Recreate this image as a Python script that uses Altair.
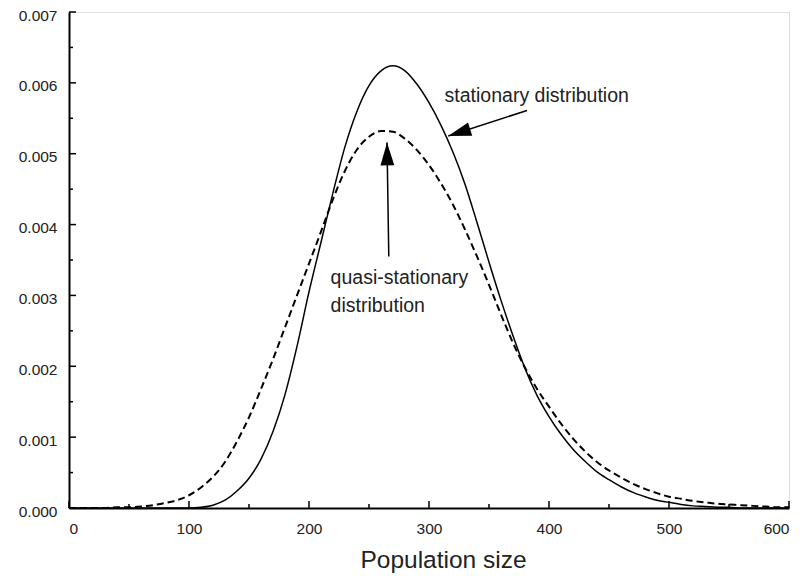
import altair as alt
import pandas as pd

# ---- data ----
x_vals = list(range(0, 601, 10))
stationary = [0, 0, 0, 0, 0, 0, 0, 0, 0, 0, 0,
              0.00001, 0.00004, 0.00011, 0.00024, 0.00042, 0.00069, 0.00108, 0.00160, 0.00228, 0.00305,
              0.00375, 0.00445, 0.00510, 0.00560, 0.00596, 0.00617, 0.00624, 0.00617, 0.00598, 0.00572,
              0.00540, 0.00502, 0.00457, 0.00403, 0.00347, 0.00293, 0.00243, 0.00197, 0.00159, 0.00129,
              0.00104, 0.00083, 0.00066, 0.00051, 0.00040, 0.00030, 0.00022, 0.00016, 0.00011, 0.00008,
              0.00005, 0.00003, 0.00002, 0.00001, 0.00001, 0, 0, 0, 0, 0]
quasi = [0, 0, 0, 0, 0.00001, 0.00001, 0.00002, 0.00004, 0.00007, 0.00011, 0.00018,
         0.00029, 0.00044, 0.00065, 0.00094, 0.00128, 0.00168, 0.00210, 0.00255, 0.00300, 0.00345,
         0.00390, 0.00436, 0.00476, 0.00506, 0.00524, 0.00532, 0.00531, 0.00521, 0.00505, 0.00484,
         0.00458, 0.00428, 0.00393, 0.00355, 0.00315, 0.00273, 0.00233, 0.00198, 0.00168, 0.00143,
         0.00119, 0.00098, 0.00080, 0.00065, 0.00053, 0.00043, 0.00034, 0.00027, 0.00021, 0.00016,
         0.00013, 0.00010, 0.00008, 0.00006, 0.00005, 0.00004, 0.00003, 0.00002, 0.00001, 0.00001]

x_major = [0, 100, 200, 300, 400, 500, 600]
x_minor = [50, 150, 250, 350, 450, 550]
y_major = [0.000, 0.001, 0.002, 0.003, 0.004, 0.005, 0.006, 0.007]
y_minor = [0.0005, 0.0015, 0.0025, 0.0035, 0.0045, 0.0055, 0.0065]

# annotations (data units)
label_text = ["stationary distribution", "quasi-stationary", "distribution"]
label_x = [313, 218, 218]
label_y = [0.00582, 0.00324, 0.00285]
arrow_x = [381.7, 266.5]
arrow_y = [0.00561, 0.00355]
arrow_x2 = [316.0, 265.0]
arrow_y2 = [0.00525, 0.00516]
arrow_angle = [252.5, 359]

W, H = 720, 496
FONT = "Liberation Sans"

df = pd.DataFrame({"x": x_vals * 2,
                   "y": stationary + quasi,
                   "series": ["stationary"] * len(x_vals) + ["quasi"] * len(x_vals)})

xscale = alt.Scale(domain=[0, 600], nice=False, zero=False)
yscale = alt.Scale(domain=[0, 0.007], nice=False)

xaxis = alt.Axis(values=x_major, format="d", grid=False, ticks=False, domainWidth=2,
                 domainColor="black", labelFont=FONT, labelFontSize=15.5, labelColor="#222",
                 labelPadding=13, title="Population size", titleFont=FONT, titleFontSize=24.5,
                 titleFontWeight="normal", titleColor="#222", titleX=374, titleY=59,
                 titleBaseline="alphabetic")
yaxis = alt.Axis(values=y_major, format=".3f", grid=False, ticks=False, domainWidth=2,
                 domainColor="black", labelFont=FONT, labelFontSize=15.5, labelColor="#222",
                 labelPadding=12, labelOffset=3, title=None)

solid = alt.Chart(df[df.series == "stationary"]).mark_line(
    color="black", strokeWidth=1.5, interpolate="monotone").encode(
    x=alt.X("x:Q", scale=xscale, axis=xaxis),
    y=alt.Y("y:Q", scale=yscale, axis=yaxis),
)
dashed = alt.Chart(df[df.series == "quasi"]).mark_line(
    color="black", strokeWidth=2, strokeDash=[7, 4], interpolate="monotone").encode(
    x=alt.X("x:Q", scale=xscale),
    y=alt.Y("y:Q", scale=yscale),
)

ytick_major = alt.Chart(pd.DataFrame({"v": y_major})).mark_rule(color="black", strokeWidth=1.5).encode(
    y=alt.Y("v:Q", scale=yscale), x=alt.value(0), x2=alt.value(7))
ytick_minor = alt.Chart(pd.DataFrame({"v": y_minor})).mark_rule(color="black", strokeWidth=1.5).encode(
    y=alt.Y("v:Q", scale=yscale), x=alt.value(0), x2=alt.value(4))
xtick_major = alt.Chart(pd.DataFrame({"v": x_major})).mark_rule(color="black", strokeWidth=1.5).encode(
    x=alt.X("v:Q", scale=xscale), y=alt.value(H), y2=alt.value(H - 7))
xtick_minor = alt.Chart(pd.DataFrame({"v": x_minor})).mark_rule(color="black", strokeWidth=1.5).encode(
    x=alt.X("v:Q", scale=xscale), y=alt.value(H), y2=alt.value(H - 4))

arrows_df = pd.DataFrame({"x": arrow_x, "y": arrow_y, "x2": arrow_x2, "y2": arrow_y2,
                          "angle": arrow_angle})
shafts = alt.Chart(arrows_df).mark_rule(color="black", strokeWidth=1.5).encode(
    x=alt.X("x:Q", scale=xscale), y=alt.Y("y:Q", scale=yscale),
    x2="x2:Q", y2="y2:Q")
heads = alt.Chart(arrows_df).mark_point(
    shape="M0,0 L-0.3,1 L0.3,1 Z", filled=True, color="black", opacity=1, size=2116, strokeWidth=0
).encode(
    x=alt.X("x2:Q", scale=xscale), y=alt.Y("y2:Q", scale=yscale),
    angle=alt.Angle("angle:Q", scale=None))

labels_df = pd.DataFrame({"t": label_text, "x": label_x, "y": label_y})
labels = alt.Chart(labels_df).mark_text(align="left", baseline="middle", font=FONT,
                                        fontSize=19.5, color="#222").encode(
    x=alt.X("x:Q", scale=xscale), y=alt.Y("y:Q", scale=yscale), text="t:N")

chart = alt.layer(solid, dashed, ytick_major, ytick_minor, xtick_major, xtick_minor,
                  shafts, heads, labels).properties(
    width=W, height=H,
    autosize=alt.AutoSizeParams(type="none"),
    padding={"left": 69, "top": 12, "right": 15, "bottom": 68},
).configure_view(stroke=None).configure(background="white")

chart.save("out.html", embed_options={"renderer": "svg", "actions": False})
